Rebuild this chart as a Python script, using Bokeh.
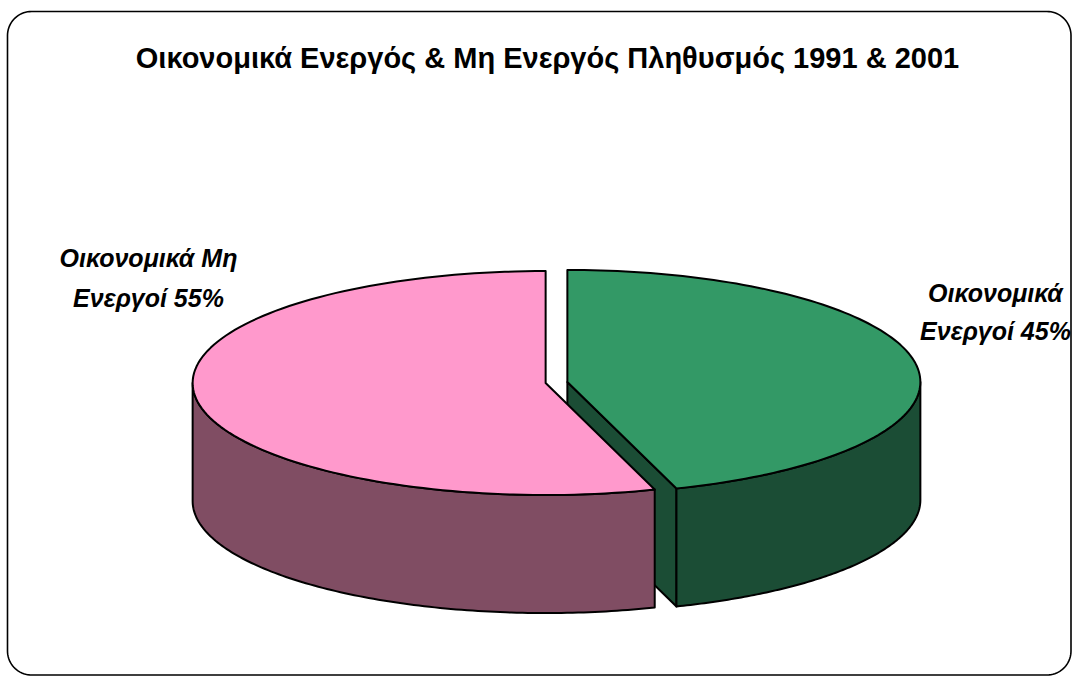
import numpy as np
from bokeh.plotting import figure
from bokeh.models import Range1d
from bokeh.core.properties import value
from bokeh.embed import file_html
from bokeh.resources import INLINE

# ---- data ----
title_text = "Οικονομικά Ενεργός & Μη Ενεργός Πληθυσμός 1991 & 2001"
categories = ["Οικονομικά Ενεργοί", "Οικονομικά Μη Ενεργοί"]
values = [45, 55]
label_line1 = ["Οικονομικά", "Οικονομικά Μη"]
label_line2 = ["Ενεργοί 45%", "Ενεργοί 55%"]
top_colors = ["#339966", "#FF99CC"]
side_colors = ["#1B4D35", "#804D63"]

# ---- figure in page-pixel coordinates ----
W, H = 1072, 676
p = figure(width=W, height=H, x_range=Range1d(0, W), y_range=Range1d(H, 0),
           output_backend="svg", toolbar_location=None, min_border=0,
           x_axis_location=None, y_axis_location=None)
p.grid.visible = False
p.outline_line_color = None
p.background_fill_color = "white"
p.border_fill_color = "white"

# rounded border
def rounded_rect(x0, y0, x1, y1, r, n=20):
    xs, ys = [], []
    corners = [(x1 - r, y0 + r, -90, 0), (x1 - r, y1 - r, 0, 90),
               (x0 + r, y1 - r, 90, 180), (x0 + r, y0 + r, 180, 270)]
    for cx, cy, a0, a1 in corners:
        t = np.radians(np.linspace(a0, a1, n))
        xs += list(cx + r * np.cos(t))
        ys += list(cy + r * np.sin(t))
    xs.append(xs[0]); ys.append(ys[0])
    return xs, ys

bx, by = rounded_rect(7, 11, 1070.5, 674.5, 24)
p.line(bx, by, line_color="black", line_width=1.6)

# ---- 3D pie ----
CX, CY = 556.0, 382.0
RX, RY = 353.0, 112.0
DEPTH = 118.0
EXPLODE = 11.0

def arc(cx, cy, a0, a1, n=120):
    t = np.radians(np.linspace(a0, a1, n))
    return cx + RX * np.cos(t), cy - RY * np.sin(t)

total = float(sum(values))
slices = []
start = 90.0
for i, v in enumerate(values):
    a_hi = start
    a_lo = start - v / total * 360.0
    start = a_lo
    mid = np.radians((a_hi + a_lo) / 2)
    cx = CX + EXPLODE * np.cos(mid)
    cy = CY - EXPLODE * np.sin(mid) * RY / RX
    slices.append(dict(i=i, a_lo=a_lo, a_hi=a_hi, cx=cx, cy=cy, mid=mid))

# back to front
slices.sort(key=lambda s: -np.sin(s["mid"]))

for s in slices:
    i, a_lo, a_hi, cx, cy = s["i"], s["a_lo"], s["a_hi"], s["cx"], s["cy"]
    polys_x, polys_y, fills = [], [], []
    # cut faces
    for a, nrm in ((a_lo, a_lo - 90), (a_hi, a_hi + 90)):
        if np.sin(np.radians(nrm)) < -1e-6:
            ex = cx + RX * np.cos(np.radians(a))
            ey = cy - RY * np.sin(np.radians(a))
            polys_x.append([cx, ex, ex, cx])
            polys_y.append([cy, ey, ey + DEPTH, cy + DEPTH])
            fills.append(side_colors[i])
    # outer front wall
    for k in (-1, 0, 1):
        lo = max(a_lo, -180 + 360 * k)
        hi = min(a_hi, 360 * k)
        if hi - lo > 1e-6:
            ax, ay = arc(cx, cy, lo, hi)
            polys_x.append(list(ax) + list(ax[::-1]))
            polys_y.append(list(ay) + list((ay + DEPTH)[::-1]))
            fills.append(side_colors[i])
    # top
    ax, ay = arc(cx, cy, a_lo, a_hi)
    polys_x.append([cx] + list(ax))
    polys_y.append([cy] + list(ay))
    fills.append(top_colors[i])
    p.patches(polys_x, polys_y, fill_color=fills, line_color="black",
              line_width=2, line_join="round")

# ---- labels ----
lab_x = [995, 148]
lab_y1 = [292, 257]
lab_y2 = [330, 297]
p.text(x=lab_x, y=lab_y1, text=label_line1, text_font=value("Liberation Sans"),
       text_font_style="bold italic", text_font_size="25px", text_align="center",
       text_baseline="alphabetic", text_color="black")
p.text(x=lab_x, y=lab_y2, text=label_line2, text_font=value("Liberation Sans"),
       text_font_style="bold italic", text_font_size="25px", text_align="center",
       text_baseline="alphabetic", text_color="black")

# ---- title ----
p.text(x=[547], y=[57], text=[title_text], text_font=value("Liberation Sans"),
       text_font_style="bold", text_font_size="29px", text_align="center",
       text_baseline="alphabetic", text_color="black")

open("out.html", "w").write(file_html(p, INLINE))
